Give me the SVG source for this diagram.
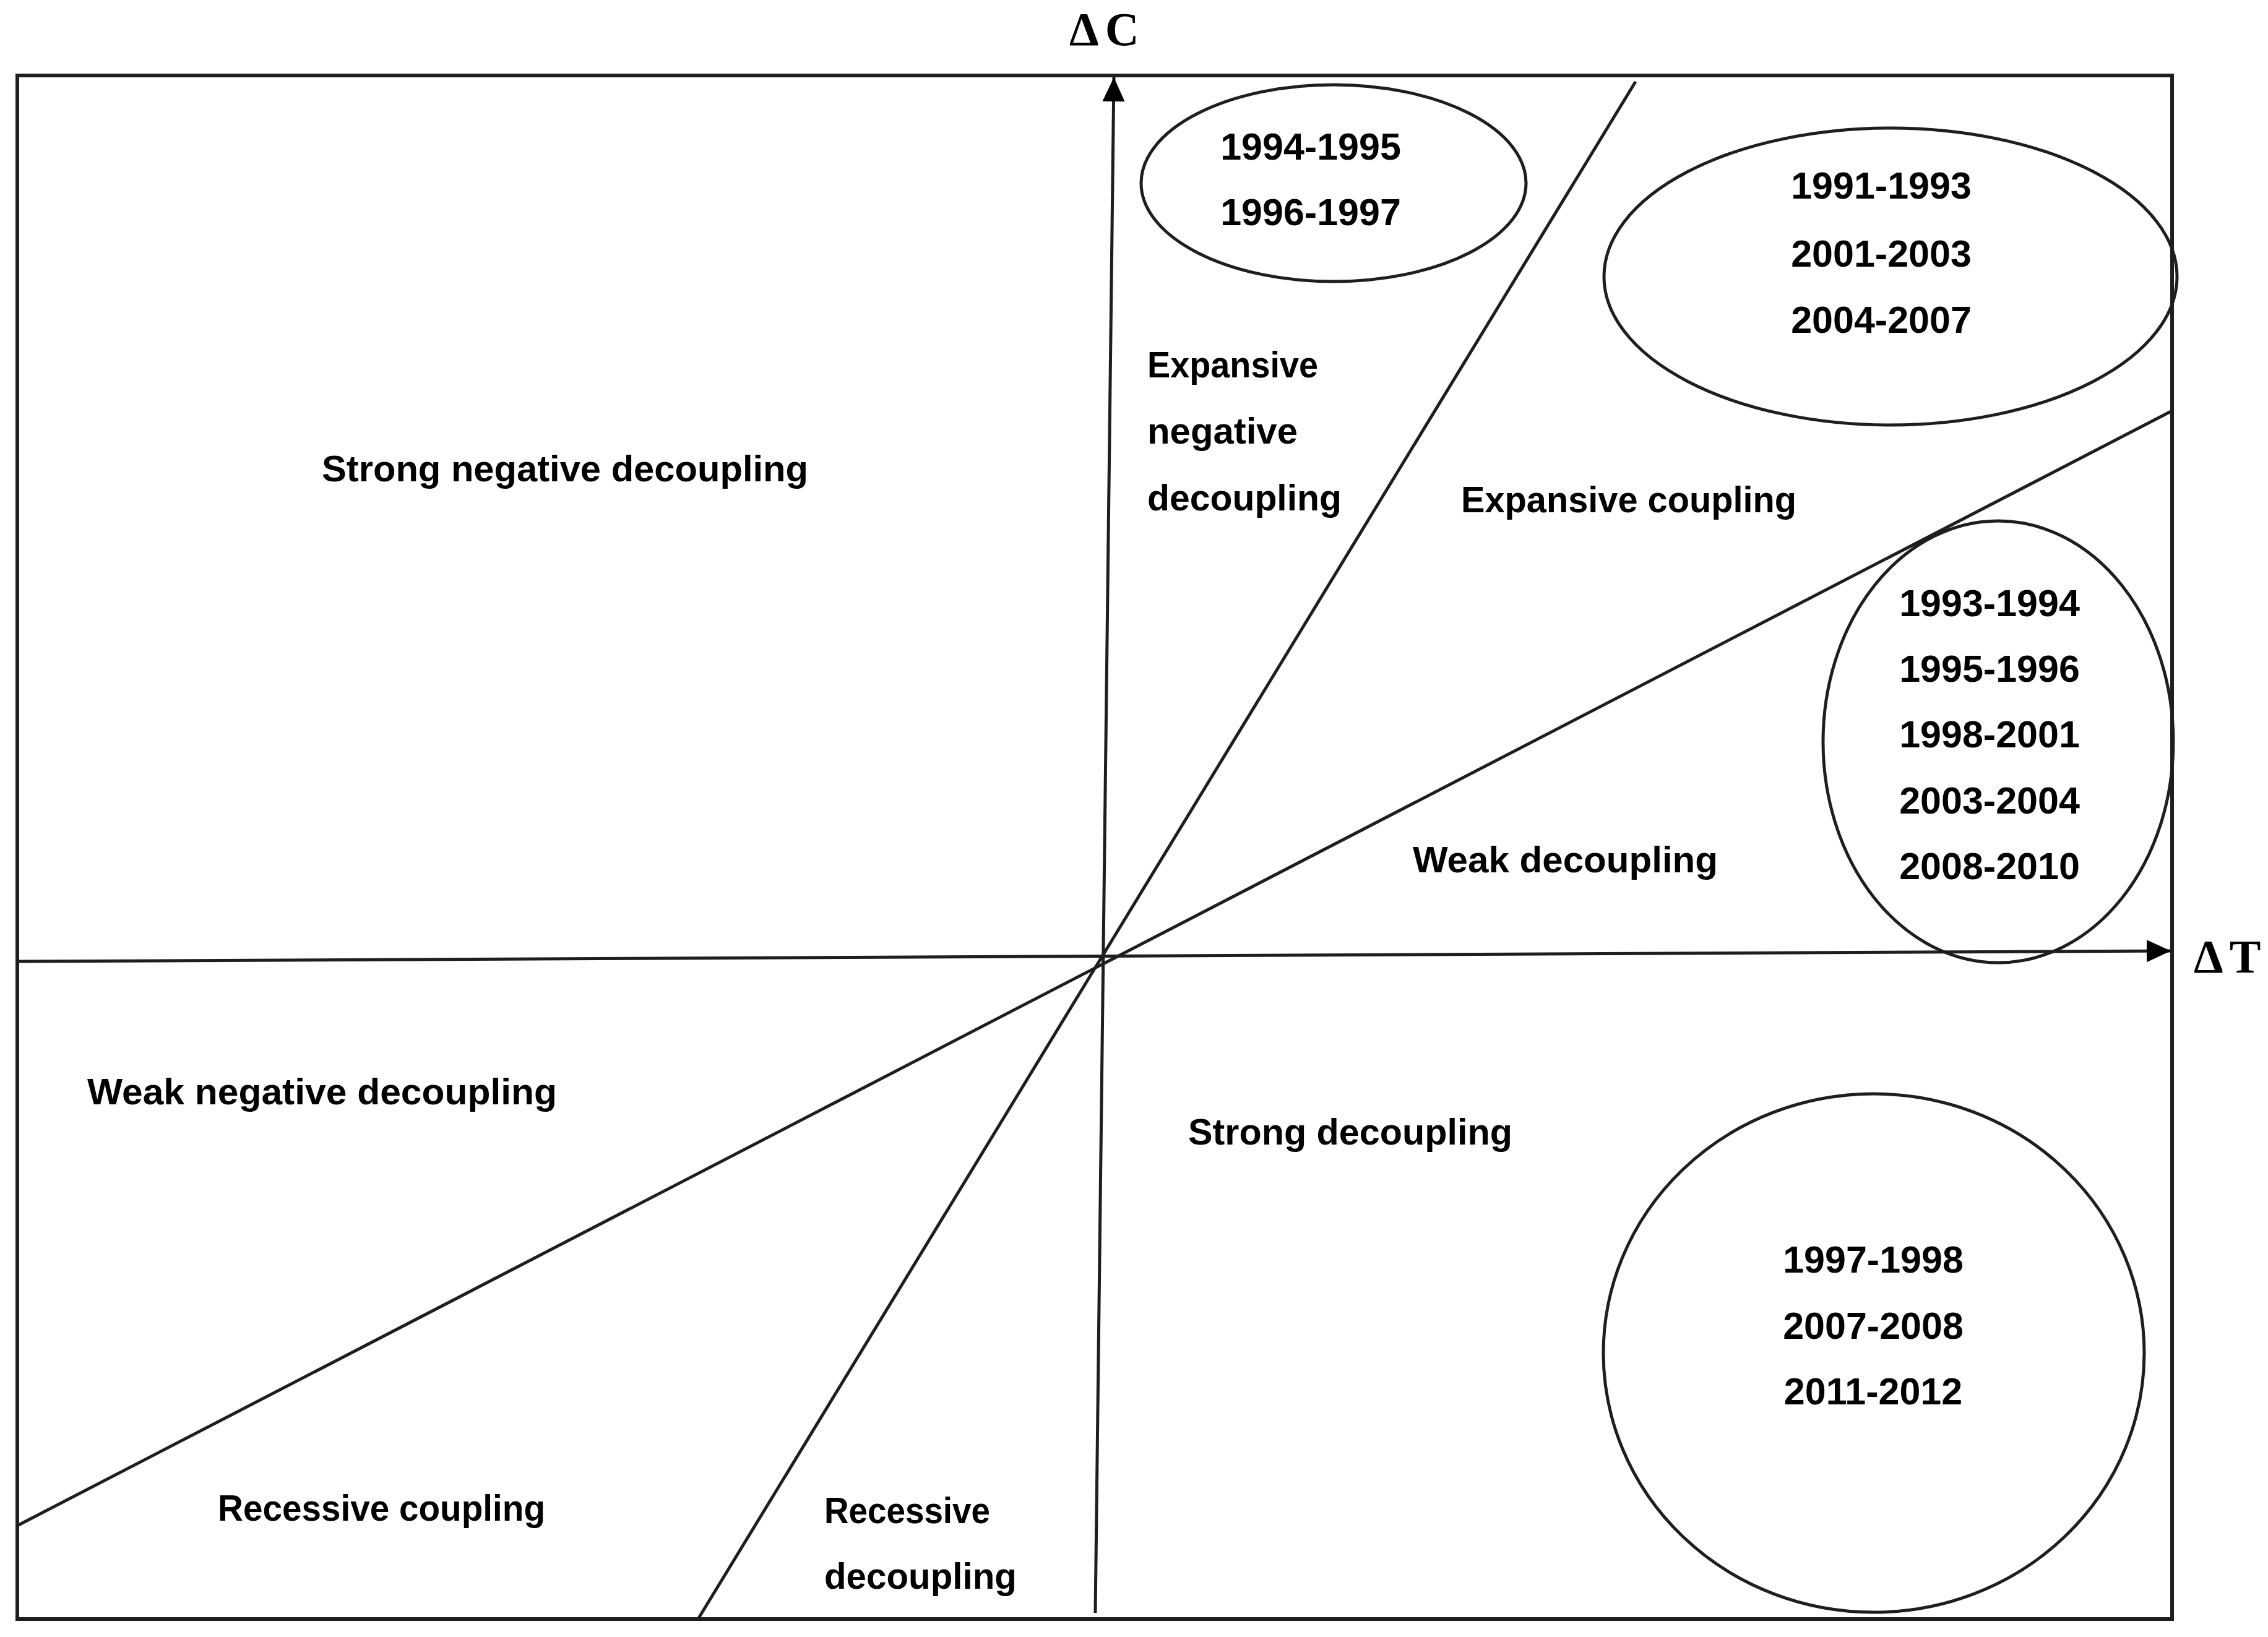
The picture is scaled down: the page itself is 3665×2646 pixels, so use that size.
<svg xmlns="http://www.w3.org/2000/svg" width="3665" height="2646" viewBox="0 0 3665 2646">
<style>
.ln{stroke:#1e1e1e;stroke-width:5;fill:none}
.frame{stroke:#1e1e1e;stroke-width:6;fill:none}
.lbl{font-family:"Liberation Sans",Arial,sans-serif;font-weight:bold;font-size:60px;fill:#000}
.yr{font-family:"Liberation Sans",Arial,sans-serif;font-weight:bold;font-size:61px;fill:#000;text-anchor:middle}
.ax{font-family:"Liberation Serif","Times New Roman",serif;font-weight:bold;font-size:76px;fill:#000;letter-spacing:10px}
</style>
<defs>
<marker id="arr" markerUnits="userSpaceOnUse" markerWidth="40" markerHeight="40" viewBox="0 0 40 40" refX="39" refY="20" orient="auto">
<path d="M0,2 L39,20 L0,38 Z" fill="#000"/>
</marker>
</defs>
<rect width="3665" height="2646" fill="#fff"/>
<rect id="frame" class="frame" x="28" y="122" width="3482" height="2495"/>
<g id="connectors">
<line id="axis-t" class="ln" x1="28" y1="1554" x2="3508" y2="1537" marker-end="url(#arr)"/>
<line id="axis-c" class="ln" x1="1770" y1="2607" x2="1800" y2="125" marker-end="url(#arr)"/>
<line id="steep" class="ln" x1="2643" y1="132" x2="1128" y2="2617"/>
<line id="shallow" class="ln" x1="3510" y1="664" x2="28" y2="2466"/>
</g>
<g id="axis-labels">
<text class="ax" x="1728" y="73">ΔC</text>
<text class="ax" x="3545" y="1572">ΔT</text>
</g>
<g id="regions">
<text id="r1" class="lbl" x="520" y="778" textLength="786" lengthAdjust="spacingAndGlyphs">Strong negative decoupling</text>
<g id="r2"><text class="lbl" x="1854" y="610" textLength="276" lengthAdjust="spacingAndGlyphs">Expansive</text><text class="lbl" x="1854" y="717" textLength="243" lengthAdjust="spacingAndGlyphs">negative</text><text class="lbl" x="1854" y="825" textLength="314" lengthAdjust="spacingAndGlyphs">decoupling</text></g>
<text id="r3" class="lbl" x="2361" y="828" textLength="542" lengthAdjust="spacingAndGlyphs">Expansive coupling</text>
<text id="r4" class="lbl" x="2283" y="1410" textLength="493" lengthAdjust="spacingAndGlyphs">Weak decoupling</text>
<text id="r5" class="lbl" x="141" y="1785" textLength="759" lengthAdjust="spacingAndGlyphs">Weak negative decoupling</text>
<text id="r6" class="lbl" x="1920" y="1850" textLength="524" lengthAdjust="spacingAndGlyphs">Strong decoupling</text>
<text id="r7" class="lbl" x="352" y="2458" textLength="529" lengthAdjust="spacingAndGlyphs">Recessive coupling</text>
<g id="r8"><text class="lbl" x="1332" y="2462" textLength="268" lengthAdjust="spacingAndGlyphs">Recessive</text><text class="lbl" x="1332" y="2568" textLength="311" lengthAdjust="spacingAndGlyphs">decoupling</text></g>
</g>
<g id="e1">
<ellipse class="ln" cx="2155" cy="296" rx="311" ry="159"/>
<text class="yr" x="2118" y="258">1994-1995</text>
<text class="yr" x="2118" y="364">1996-1997</text>
</g>
<g id="e2">
<ellipse class="ln" cx="3055" cy="447" rx="463" ry="240"/>
<text class="yr" x="3040" y="321">1991-1993</text>
<text class="yr" x="3040" y="431">2001-2003</text>
<text class="yr" x="3040" y="538">2004-2007</text>
</g>
<g id="e3">
<ellipse class="ln" cx="3229" cy="1199" rx="283" ry="357"/>
<text class="yr" x="3215" y="996">1993-1994</text>
<text class="yr" x="3215" y="1102">1995-1996</text>
<text class="yr" x="3215" y="1208">1998-2001</text>
<text class="yr" x="3215" y="1315">2003-2004</text>
<text class="yr" x="3215" y="1421">2008-2010</text>
</g>
<g id="e4">
<ellipse class="ln" cx="3028" cy="2187" rx="437" ry="419"/>
<text class="yr" x="3027" y="2057">1997-1998</text>
<text class="yr" x="3027" y="2164">2007-2008</text>
<text class="yr" x="3027" y="2270">2011-2012</text>
</g>
</svg>
